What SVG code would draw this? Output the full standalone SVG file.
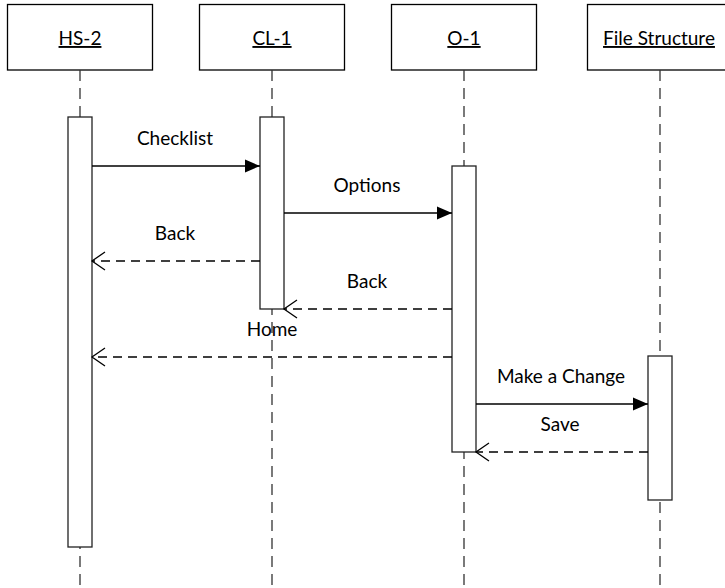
<svg xmlns="http://www.w3.org/2000/svg" width="725" height="588" viewBox="0 0 725 588">
  <style>
    .head { fill: #fff; stroke: #000; stroke-width: 1.3; }
    .life { stroke: #333; stroke-width: 1.3; stroke-dasharray: 11 7; fill: none; }
    .bar { fill: #fff; stroke: #222; stroke-width: 1.3; }
    .call { stroke: #000; stroke-width: 1.3; fill: none; marker-end: url(#solid); }
    .ret { stroke: #000; stroke-width: 1.3; fill: none; stroke-dasharray: 9 6; marker-end: url(#open); }
    text { font-family: Lato, "Liberation Sans", sans-serif; font-size: 19px; fill: #000; text-anchor: middle; }
    .name { text-decoration: underline; }
  </style>
  <defs>
    <marker id="solid" markerUnits="userSpaceOnUse" viewBox="-16 -8 17 16" refX="0" refY="0" markerWidth="17" markerHeight="16" orient="auto">
      <path d="M-15,-6.5 L0,0 L-15,6.5 Z" fill="#000" stroke="none"/>
    </marker>
    <marker id="open" markerUnits="userSpaceOnUse" viewBox="-15 -11 17 22" refX="0" refY="0" markerWidth="17" markerHeight="22" orient="auto">
      <path d="M-13,-9 L0,0 L-13,9" fill="none" stroke="#000" stroke-width="1.3"/>
    </marker>
  </defs>

  <!-- lifeline: HS-2 -->
  <g id="hs2">
    <rect class="head" x="7.5" y="4.5" width="145" height="65.5"/>
    <text class="name" x="80" y="45">HS-2</text>
    <line class="life" x1="80" y1="70" x2="80" y2="588"/>
    <rect class="bar" x="68" y="117" width="24" height="430"/>
  </g>

  <!-- lifeline: CL-1 -->
  <g id="cl1">
    <rect class="head" x="199.5" y="4.5" width="145" height="65.5"/>
    <text class="name" x="272" y="45">CL-1</text>
    <line class="life" x1="272" y1="70" x2="272" y2="588"/>
    <rect class="bar" x="260" y="117" width="24" height="192"/>
  </g>

  <!-- lifeline: O-1 -->
  <g id="o1">
    <rect class="head" x="391.5" y="4.5" width="145" height="65.5"/>
    <text class="name" x="464" y="45">O-1</text>
    <line class="life" x1="464" y1="70" x2="464" y2="588"/>
    <rect class="bar" x="452" y="166" width="24" height="286"/>
  </g>

  <!-- lifeline: File Structure -->
  <g id="filestructure">
    <rect class="head" x="587.5" y="4.5" width="145" height="65.5"/>
    <text class="name" x="659" y="45">File Structure</text>
    <line class="life" x1="660" y1="70" x2="660" y2="588"/>
    <rect class="bar" x="648" y="356" width="24" height="144"/>
  </g>

  <!-- messages -->
  <g id="messages">
    <line class="call" x1="92" y1="166" x2="260" y2="166"/>
    <text x="175" y="145">Checklist</text>

    <line class="call" x1="284" y1="213" x2="452" y2="213"/>
    <text x="367" y="192">Options</text>

    <line class="ret" x1="260" y1="261" x2="92" y2="261"/>
    <text x="175" y="240">Back</text>

    <line class="ret" x1="452" y1="309" x2="284" y2="309"/>
    <text x="367" y="288">Back</text>

    <line class="ret" x1="452" y1="357" x2="92" y2="357"/>
    <text x="272" y="336">Home</text>

    <line class="call" x1="476" y1="404" x2="648" y2="404"/>
    <text x="561" y="383">Make a Change</text>

    <line class="ret" x1="648" y1="452" x2="476" y2="452"/>
    <text x="560" y="431">Save</text>
  </g>
</svg>
